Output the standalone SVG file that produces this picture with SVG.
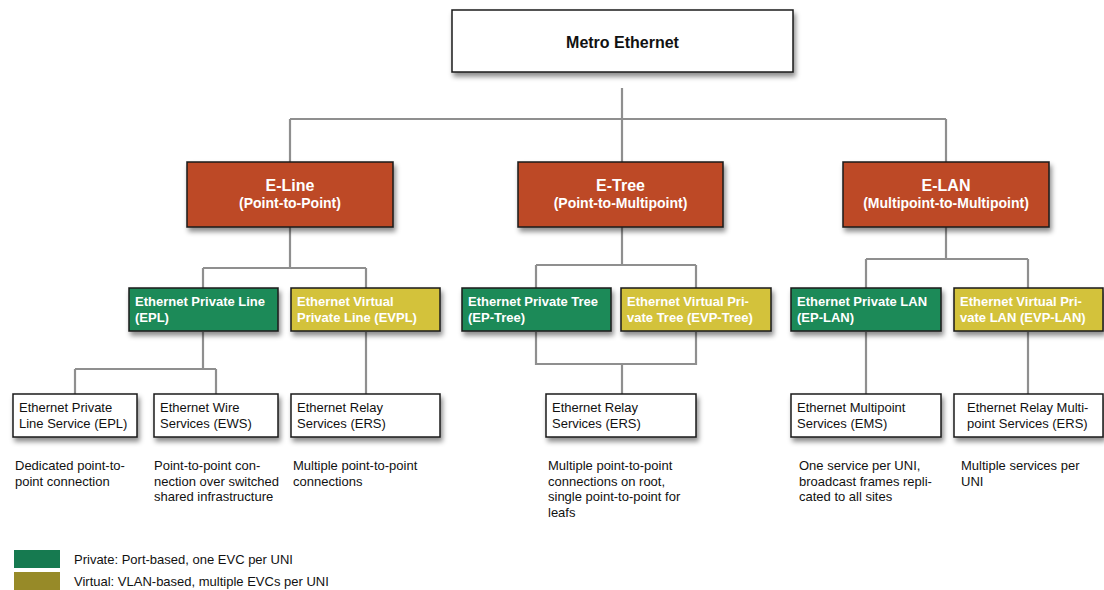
<svg xmlns="http://www.w3.org/2000/svg" width="1104" height="590" viewBox="0 0 1104 590">
<defs>
<filter id="sh" x="-10%" y="-20%" width="130%" height="160%">
<feDropShadow dx="2" dy="4" stdDeviation="2.5" flood-color="#000" flood-opacity="0.45"/>
</filter>
<style>
.box{stroke:#1a1a1a;stroke-width:1.5;filter:url(#sh)}
.white{fill:#ffffff}
.red{fill:#bd4a28}
.green{fill:#1c8a58}
.yellow{fill:#d3c23a}
.conn{fill:none;stroke:#8f8f8f;stroke-width:2.2}
.t{font-family:"Liberation Sans",Arial,sans-serif;font-size:13px;fill:#111}
.tb{font-family:"Liberation Sans",Arial,sans-serif;font-weight:bold;fill:#fff;font-size:13px}
.th{font-family:"Liberation Sans",Arial,sans-serif;font-weight:bold;fill:#fff;font-size:16px;text-anchor:middle}
.ts{font-family:"Liberation Sans",Arial,sans-serif;font-weight:bold;fill:#fff;font-size:14px;text-anchor:middle}
</style>
</defs>
<rect width="1104" height="590" fill="#fff"/>
<g id="connectors">
<path class="conn" d="M622 88V162M290 119H946M290 119V162M946 119V162"/>
<path class="conn" d="M290 227V268M203 268H366M203 268V288M366 268V288"/>
<path class="conn" d="M203 332V369M75 369H216M75 369V394M216 369V394M366 332V394"/>
<path class="conn" d="M622 227V265M536 265H696M536 265V288M696 265V288"/>
<path class="conn" d="M536 332V364H696V332M622 364V394"/>
<path class="conn" d="M946 227V259M866 259H1028M866 259V288M1028 259V288M866 332V394M1028 332V394"/>
</g>
<g id="metro">
<rect class="box white" x="452" y="10" width="341" height="62"/>
<text x="622.5" y="48" style="font-family:'Liberation Sans',Arial,sans-serif;font-weight:bold;font-size:16px;fill:#111;text-anchor:middle">Metro Ethernet</text>
</g>
<g id="eline">
<rect class="box red" x="187" y="162" width="206" height="65"/>
<text class="th" x="290" y="191">E-Line</text>
<text class="ts" x="290" y="208">(Point-to-Point)</text>
</g>
<g id="etree">
<rect class="box red" x="518" y="162" width="205" height="65"/>
<text class="th" x="620.5" y="191">E-Tree</text>
<text class="ts" x="620.5" y="208">(Point-to-Multipoint)</text>
</g>
<g id="elan">
<rect class="box red" x="843" y="162" width="206" height="65"/>
<text class="th" x="946" y="191">E-LAN</text>
<text class="ts" x="946" y="208">(Multipoint-to-Multipoint)</text>
</g>
<g id="epl">
<rect class="box green" x="129" y="288" width="149" height="43"/>
<text class="tb" x="135" y="306">Ethernet Private Line</text>
<text class="tb" x="135" y="322">(EPL)</text>
</g>
<g id="evpl">
<rect class="box yellow" x="291" y="288" width="149" height="43"/>
<text class="tb" x="297" y="306">Ethernet Virtual</text>
<text class="tb" x="297" y="322">Private Line (EVPL)</text>
</g>
<g id="eptree">
<rect class="box green" x="462" y="288" width="149" height="43"/>
<text class="tb" x="468" y="306">Ethernet Private Tree</text>
<text class="tb" x="468" y="322">(EP-Tree)</text>
</g>
<g id="evptree">
<rect class="box yellow" x="621" y="288" width="150" height="43"/>
<text class="tb" x="627" y="306">Ethernet Virtual Pri-</text>
<text class="tb" x="627" y="322">vate Tree (EVP-Tree)</text>
</g>
<g id="eplan">
<rect class="box green" x="791" y="288" width="150" height="43"/>
<text class="tb" x="797" y="306">Ethernet Private LAN</text>
<text class="tb" x="797" y="322">(EP-LAN)</text>
</g>
<g id="evplan">
<rect class="box yellow" x="954" y="288" width="149" height="43"/>
<text class="tb" x="960" y="306">Ethernet Virtual Pri-</text>
<text class="tb" x="960" y="322">vate LAN (EVP-LAN)</text>
</g>
<g id="eplservice">
<rect class="box white" x="13" y="394" width="124" height="43"/>
<text class="t" x="19" y="412">Ethernet Private</text>
<text class="t" x="19" y="428">Line Service (EPL)</text>
<text class="t" x="15" y="470">Dedicated point-to-</text>
<text class="t" x="15" y="486">point connection</text>
</g>
<g id="ews">
<rect class="box white" x="154" y="394" width="124" height="43"/>
<text class="t" x="160" y="412">Ethernet Wire</text>
<text class="t" x="160" y="428">Services (EWS)</text>
<text class="t" x="154" y="470">Point-to-point con-</text>
<text class="t" x="154" y="486">nection over switched</text>
<text class="t" x="154" y="501">shared infrastructure</text>
</g>
<g id="ers1">
<rect class="box white" x="291" y="394" width="149" height="43"/>
<text class="t" x="297" y="412">Ethernet Relay</text>
<text class="t" x="297" y="428">Services (ERS)</text>
<text class="t" x="293" y="470">Multiple point-to-point</text>
<text class="t" x="293" y="486">connections</text>
</g>
<g id="ers2">
<rect class="box white" x="546" y="394" width="150" height="43"/>
<text class="t" x="552" y="412">Ethernet Relay</text>
<text class="t" x="552" y="428">Services (ERS)</text>
<text class="t" x="548" y="470">Multiple point-to-point</text>
<text class="t" x="548" y="486">connections on root,</text>
<text class="t" x="548" y="501">single point-to-point for</text>
<text class="t" x="548" y="517">leafs</text>
</g>
<g id="ems">
<rect class="box white" x="791" y="394" width="150" height="43"/>
<text class="t" x="797" y="412">Ethernet Multipoint</text>
<text class="t" x="797" y="428">Services (EMS)</text>
<text class="t" x="799" y="470">One service per UNI,</text>
<text class="t" x="799" y="486">broadcast frames repli-</text>
<text class="t" x="799" y="501">cated to all sites</text>
</g>
<g id="ers3">
<rect class="box white" x="954" y="394" width="149" height="43"/>
<text class="t" x="967" y="412">Ethernet Relay Multi-</text>
<text class="t" x="967" y="428">point Services (ERS)</text>
<text class="t" x="961" y="470">Multiple services per</text>
<text class="t" x="961" y="486">UNI</text>
</g>
<g id="legend">
<rect x="14" y="550" width="46" height="18" fill="#167a50"/>
<rect x="14" y="572" width="46" height="18" fill="#978a28"/>
<text class="t" x="74" y="564">Private: Port-based, one EVC per UNI</text>
<text class="t" x="74" y="586">Virtual: VLAN-based, multiple EVCs per UNI</text>
</g>
</svg>
